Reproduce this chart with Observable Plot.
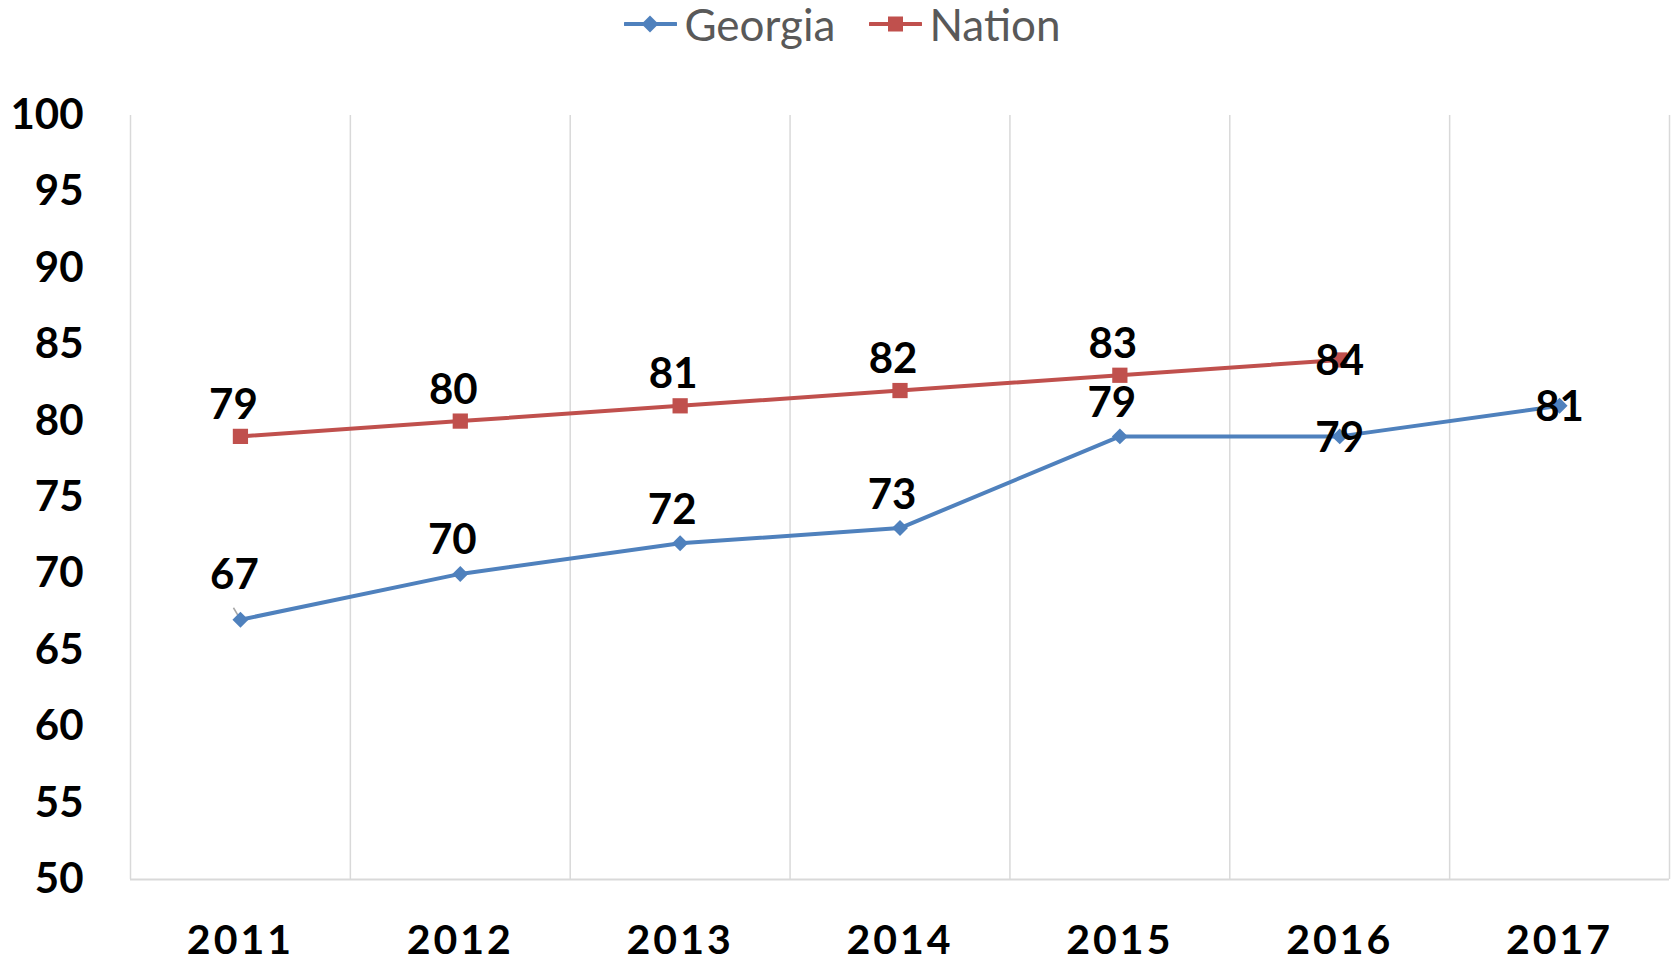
<!DOCTYPE html>
<html>
<head>
<meta charset="utf-8">
<script src="https://cdn.jsdelivr.net/npm/d3@7"></script>
<script src="https://cdn.jsdelivr.net/npm/@observablehq/plot@0.6"></script>
<style>
  html, body { margin: 0; padding: 0; background: white; }
  #legend { height: 55px; display: flex; justify-content: center; align-items: center; font-family: Lato, sans-serif; font-size: 44px; color: #595959; padding-left: 8px; padding-bottom: 8px; box-sizing: border-box; }
  .item { display: flex; align-items: center; }
  .item span { margin-left: 7px; }
  .item + .item { margin-left: 34px; }
</style>
</head>
<body>
<div id="legend"></div>
<div id="chart"></div>
<script>
const years = [2011, 2012, 2013, 2014, 2015, 2016, 2017];
const georgia = [67, 70, 72, 73, 79, 79, 81];
const nation = [79, 80, 81, 82, 83, 84, null];
const yTicks = [50, 55, 60, 65, 70, 75, 80, 85, 90, 95, 100];
const seriesNames = ["Georgia", "Nation"];
const colors = ["#4F81BD", "#C0504D"];

const gData = years.map((year, i) => ({year, value: georgia[i], series: "Georgia"}));
const nData = years.map((year, i) => ({year, value: nation[i], series: "Nation"})).filter(d => d.value != null);
const bounds = [years[0] - 0.5, ...years.map(y => y + 0.5)];
const lastYear = years[years.length - 1];
const centered = d => d.year >= 2016;
const first = d => d.year === years[0];

// legend
const legend = document.getElementById("legend");
seriesNames.forEach((name, i) => {
  const item = document.createElement("div");
  item.className = "item";
  const marker = i === 0
    ? `<rect x="20" y="4" width="12" height="12" transform="rotate(45 26 10)" fill="${colors[i]}"/>`
    : `<rect x="19" y="2.5" width="15" height="15" fill="${colors[i]}"/>`;
  item.innerHTML = `<svg width="53" height="20" viewBox="0 0 53 20"><line x1="1" y1="10" x2="52" y2="10" stroke="${colors[i]}" stroke-width="4" stroke-linecap="round"/>${marker}</svg><span>${name}</span>`;
  legend.appendChild(item);
});

const labelFont = {fontSize: 42, fontWeight: "bold", fill: "black"};
const label = d => String(d.value);

const chart = Plot.plot({
  width: 1677,
  height: 908,
  marginTop: 60,
  marginBottom: 84,
  marginLeft: 130,
  marginRight: 8,
  style: {fontFamily: "Lato, sans-serif", background: "white", color: "black"},
  x: {domain: [years[0] - 0.5, lastYear + 0.5], axis: null},
  y: {domain: [50, 100], axis: null},
  marks: [
    Plot.ruleX(bounds, {x: d => d, y1: 50, y2: 100, stroke: "#D9D9D9", strokeWidth: 1.5}),
    Plot.ruleY([50], {stroke: "#D9D9D9", strokeWidth: 2}),
    Plot.axisY({ticks: yTicks, tickSize: 0, tickPadding: 47, fontSize: 42, fontWeight: "bold", label: null}),
    Plot.axisX({ticks: years, tickFormat: d => String(d), tickSize: 0, tickPadding: 45, fontSize: 41, fontWeight: "bold", label: null}),
    // leader line for the first Georgia label
    Plot.link(gData.filter(first), {x1: "year", x2: "year", y1: "value", y2: "value", dx: 0, stroke: "#A6A6A6", strokeWidth: 1.5,
      transform: null}),
    Plot.line(gData, {x: "year", y: "value", stroke: colors[0], strokeWidth: 4}),
    Plot.line(nData, {x: "year", y: "value", stroke: colors[1], strokeWidth: 4}),
    Plot.dot(gData, {x: "year", y: "value", symbol: "diamond2", r: 7.2, fill: colors[0], stroke: "none"}),
    Plot.dot(nData, {x: "year", y: "value", symbol: "square", r: 8.6, fill: colors[1], stroke: "none"}),
    Plot.text(gData.filter(first), {x: "year", y: "value", text: label, dy: -44, dx: -6, ...labelFont}),
    Plot.text(gData.filter(d => !centered(d) && !first(d)), {x: "year", y: "value", text: label, dy: -33, dx: -8, ...labelFont}),
    Plot.text(nData.filter(d => !centered(d)), {x: "year", y: "value", text: label, dy: -31, dx: -7, ...labelFont}),
    Plot.text(gData.filter(centered), {x: "year", y: "value", text: label, dy: 2, ...labelFont}),
    Plot.text(nData.filter(centered), {x: "year", y: "value", text: label, dy: 2, ...labelFont})
  ]
});
d3.select(chart).selectAll("g[aria-label='x-axis tick label'] text").attr("letter-spacing", "3px");
// shape the leader line: short gray tick just above-left of the first Georgia point
d3.select(chart).selectAll("g[aria-label='link'] path").each(function() {
  const p = d3.select(this);
  const m = /M([\d.]+),([\d.]+)/.exec(p.attr("d"));
  if (m) {
    const x = +m[1], y = +m[2];
    p.attr("d", `M${x - 7},${y - 12}L${x - 1},${y - 2}`);
  }
});
document.getElementById("chart").appendChild(chart);
</script>
</body>
</html>
